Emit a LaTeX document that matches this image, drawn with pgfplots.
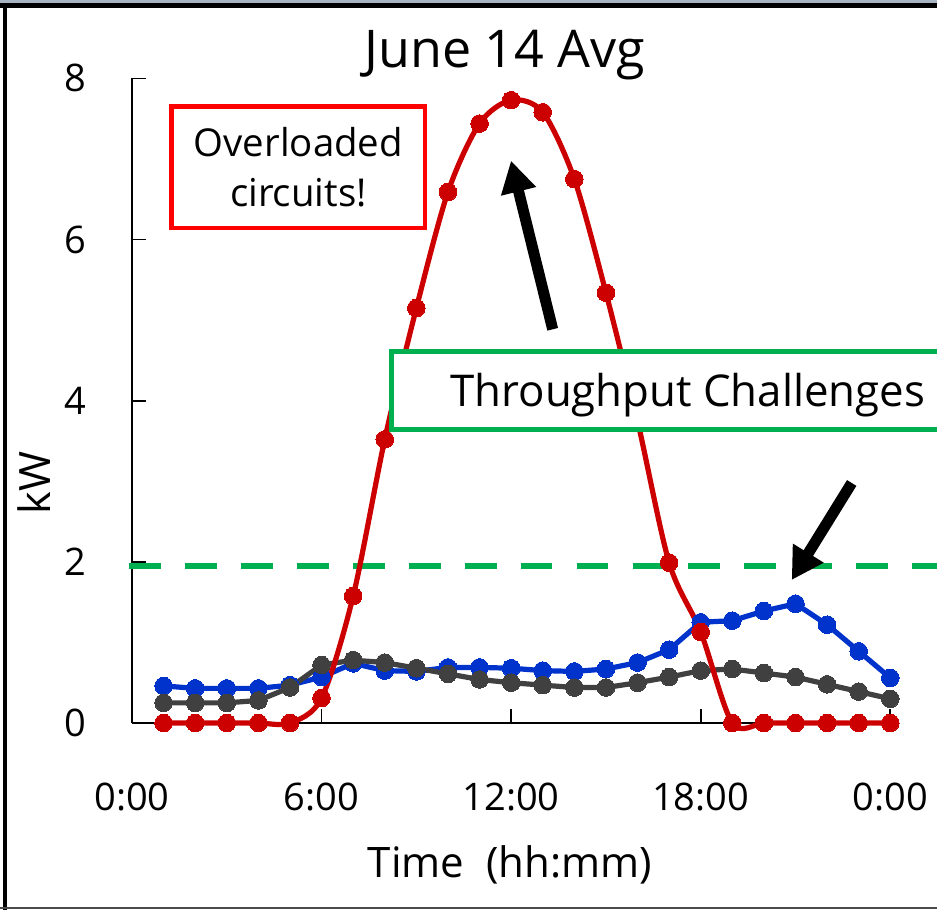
\documentclass[border=0pt]{standalone}
\usepackage{pgfplots}
\pgfplotsset{compat=1.18}
\usepackage{fontspec}
\setmainfont{Open Sans}
\usetikzlibrary{arrows.meta}
\definecolor{cred}{HTML}{CC0000}
\definecolor{cblue}{HTML}{0033CC}
\definecolor{cgray}{HTML}{404040}
\definecolor{cgreen}{HTML}{00B050}
\definecolor{boxred}{HTML}{FF0000}
\definecolor{topstrip}{HTML}{A9B4C2}

\pgfplotstableread{
h kw
1 0
2 0
3 0
4 0
5 0
6 0.31
7 1.575
8 3.52
9 5.15
10 6.59
11 7.44
12 7.73
13 7.58
14 6.75
15 5.34
16 3.75
17 1.99
18 1.13
19 0
20 0
21 0
22 0
23 0
24 0
}\redtab

\pgfplotstableread{
h kw
1 0.46
2 0.43
3 0.43
4 0.43
5 0.47
6 0.57
7 0.74
8 0.65
9 0.64
10 0.69
11 0.69
12 0.68
13 0.65
14 0.64
15 0.67
16 0.75
17 0.91
18 1.25
19 1.27
20 1.39
21 1.48
22 1.22
23 0.89
24 0.56
}\bluetab

\pgfplotstableread{
h kw
1 0.25
2 0.25
3 0.25
4 0.28
5 0.44
6 0.72
7 0.78
8 0.75
9 0.68
10 0.61
11 0.54
12 0.50
13 0.47
14 0.44
15 0.44
16 0.50
17 0.57
18 0.65
19 0.67
20 0.62
21 0.57
22 0.48
23 0.39
24 0.30
}\graytab

\begin{document}
\begin{tikzpicture}
\useasboundingbox (-66pt,-93.5pt) rectangle (402.5pt,361.5pt);
\begin{axis}[
  at={(0pt,0pt)}, anchor=south west,
  scale only axis, width=379.15pt, height=322.3pt,
  xmin=0, xmax=24, ymin=0, ymax=8,
  clip=false,
  axis x line*=bottom, axis y line*=left,
  axis line style={line width=0.9pt, black},
  xtick={0,6,12,18,24},
  xticklabels={0:00,6:00,12:00,18:00,0:00},
  ytick={0,2,4,6,8},
  yticklabels={0,2,4,6,8},
  tick align=inside, major tick length=7pt,
  tick style={line width=0.9pt, black},
  /pgf/number format/assume math mode=true,
  ticklabel style={font=\fontsize{19}{23}\selectfont},
  xticklabel style={inner sep=0pt, anchor=north, yshift=-30pt},
  yticklabel style={inner sep=0pt, anchor=east, xshift=-22.5pt},
]
\addplot[cgreen, line width=3.3pt, dash pattern=on 15.85pt off 12.1pt] coordinates {(-0.08,1.95) (26,1.95)};
\addplot[cblue, line width=2.6pt, mark=*, mark size=4.4pt, mark options={solid, fill=cblue, draw=cblue, line width=0pt}] table[x=h, y=kw] {\bluetab};
\addplot[cgray, line width=2.6pt, mark=*, mark size=4.4pt, mark options={solid, fill=cgray, draw=cgray, line width=0pt}] table[x=h, y=kw] {\graytab};
\addplot[cred, line width=2.6pt, smooth, tension=0.5, mark=*, mark size=4.4pt, mark options={solid, fill=cred, draw=cred, line width=0pt}] table[x=h, y=kw] {\redtab};
\end{axis}

% title and axis labels
\node[font=\fontsize{26}{30}\selectfont, anchor=base, inner sep=0pt] at (186.5pt,327.5pt) {June 14 Avg};
\node[font=\fontsize{21}{25}\selectfont, anchor=base, inner sep=0pt] at (189pt,-77.5pt) {Time\ \ (hh:mm)};
\node[font=\fontsize{21.6}{25}\selectfont, rotate=90, inner sep=0pt] at (-49pt,120pt) {kW};

% annotation boxes
\draw[boxred, line width=2.3pt, fill=white] (19.85pt,247.5pt) rectangle (146.5pt,308.35pt);
\node[align=center, font=\fontsize{19.2}{25}\selectfont, inner sep=0pt] at (83.2pt,278pt) {Overloaded\\circuits!};
\draw[cgreen, line width=2.3pt, fill=white] (129.65pt,146.85pt) rectangle (430pt,185.65pt);
\node[anchor=base west, font=\fontsize{21.9}{26}\selectfont, inner sep=0pt] at (159pt,158pt) {Throughput Challenges};

% arrows
\draw[black, line width=5.5pt, -{Triangle[width=17pt,length=15.8pt]}] (210.35pt,196.85pt) -- (189.5pt,281.15pt);
\draw[black, line width=5.5pt, -{Triangle[width=17pt,length=15.8pt]}] (359.85pt,120pt) -- (329.85pt,71.5pt);

% window frame
\fill[topstrip] (-66pt,359.85pt) rectangle (402.5pt,361.5pt);
\fill[black] (-66pt,357.35pt) rectangle (402.5pt,359.85pt);
\fill[black] (-64.65pt,-93.5pt) rectangle (-62.65pt,359.85pt);
\fill[black!70] (-66pt,-93.15pt) rectangle (402.5pt,-92.15pt);
\end{tikzpicture}
\end{document}
